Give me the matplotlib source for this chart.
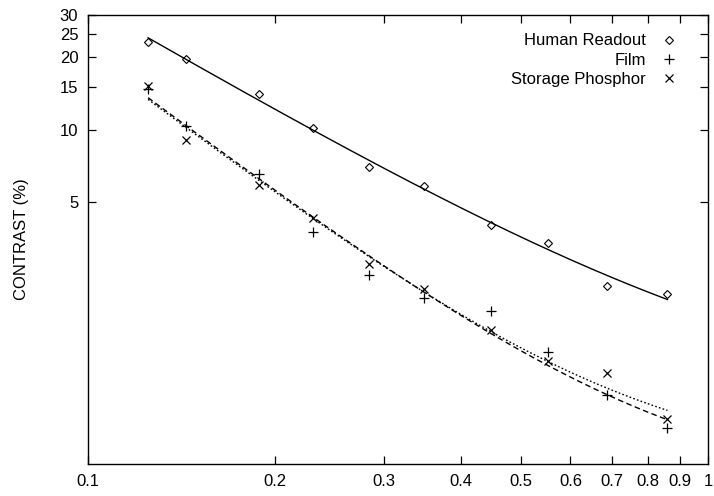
import numpy as np
import matplotlib
matplotlib.use("Agg")
import matplotlib.pyplot as plt
from matplotlib.ticker import FixedLocator, NullLocator, FixedFormatter

plt.rcParams['font.family'] = ['Liberation Sans', 'DejaVu Sans']

# Data
frequency = [0.125, 0.144, 0.189, 0.231, 0.284, 0.348, 0.446, 0.551, 0.687, 0.860]
human_readout = [23.2, 19.6, 14.1, 10.2, 7.0, 5.83, 4.01, 3.37, 2.23, 2.07]
film = [14.7, 10.36, 6.54, 3.74, 2.49, 2.00, 1.76, 1.19, 0.79, 0.576]
storage_phosphor = [15.2, 9.06, 5.89, 4.30, 2.77, 2.17, 1.47, 1.088, 0.97, 0.624]

x_ticks = [0.1, 0.2, 0.3, 0.4, 0.5, 0.6, 0.7, 0.8, 0.9, 1.0]
x_tick_labels = ["0.1", "0.2", "0.3", "0.4", "0.5", "0.6", "0.7", "0.8", "0.9", "1"]
y_ticks = [5, 10, 15, 20, 25, 30]
y_tick_labels = ["5", "10", "15", "20", "25", "30"]


def power_const_fit(x, y, n=200):
    """Fit y = a * x**b + c (least squares in log y), grid search on c."""
    x = np.asarray(x, float)
    y = np.asarray(y, float)
    best = None
    for c in np.linspace(0, y.min() * 0.98, 300):
        coef = np.polyfit(np.log(x), np.log(y - c), 1)
        pred = np.exp(np.polyval(coef, np.log(x))) + c
        err = np.sum((np.log(pred) - np.log(y)) ** 2)
        if best is None or err < best[0]:
            best = (err, coef, c)
    _, coef, c = best
    xs = np.logspace(np.log10(x.min()), np.log10(x.max()), n)
    return xs, np.exp(np.polyval(coef, np.log(xs))) + c


fig = plt.figure(figsize=(7.14, 4.96), dpi=100)
ax = fig.add_axes([88 / 714, 32 / 496, 620 / 714, 449 / 496])
ax.set_xscale('log')
ax.set_yscale('log')
ax.set_xlim(0.1, 1.0)
ax.set_ylim(0.406, 30)

xs, ys = power_const_fit(frequency, human_readout)
ax.plot(xs, ys, color='black', lw=1.0, ls='-')
xs, ys = power_const_fit(frequency, film)
ax.plot(xs, ys, color='black', lw=1.0, ls=(0, (4, 2.5)))
xs, ys = power_const_fit(frequency, storage_phosphor)
ax.plot(xs, ys, color='black', lw=1.0, ls=(0, (1.2, 1.6)))

ax.plot(frequency, human_readout, ls='none', marker='D', ms=4.5, mfc='none',
        mec='black', mew=0.8, label='Human Readout')
ax.plot(frequency, film, ls='none', marker='+', ms=7, mec='black', mew=0.9,
        label='Film')
ax.plot(frequency, storage_phosphor, ls='none', marker='x', ms=6, mec='black',
        mew=0.9, label='Storage Phosphor')

ax.xaxis.set_major_locator(FixedLocator(x_ticks))
ax.xaxis.set_major_formatter(FixedFormatter(x_tick_labels))
ax.xaxis.set_minor_locator(NullLocator())
ax.yaxis.set_major_locator(FixedLocator(y_ticks))
ax.yaxis.set_major_formatter(FixedFormatter(y_tick_labels))
ax.yaxis.set_minor_locator(NullLocator())
ax.tick_params(which='both', direction='in', top=True, right=True, length=6,
               width=0.9, labelsize=12, pad=7)
for s in ax.spines.values():
    s.set_linewidth(1.0)

ax.set_ylabel('CONTRAST (%)', fontsize=12, labelpad=22)

leg = ax.legend(loc='upper right', bbox_to_anchor=(0.97, 0.985), frameon=False,
                markerfirst=False, fontsize=12, handlelength=1.0,
                handletextpad=0.9, labelspacing=0.25, borderpad=0.2)
for t in leg.get_texts():
    t.set_ha('right')

fig.savefig('out.png', dpi=100)
